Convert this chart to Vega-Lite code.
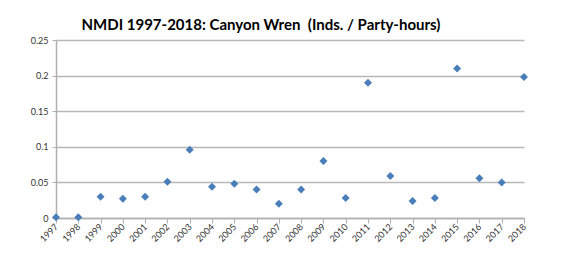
{
  "$schema": "https://vega.github.io/schema/vega-lite/v6.json",
  "width": 468,
  "height": 178,
  "autosize": {"type": "none"},
  "padding": {"left": 56, "top": 40, "right": 54, "bottom": 36},
  "background": "white",
  "title": {
    "text": "NMDI 1997-2018: Canyon Wren\u00a0\u00a0(Inds. / Party-hours)",
    "font": "Lato",
    "fontSize": 15,
    "fontWeight": "bold",
    "color": "black",
    "anchor": "middle",
    "offset": 3,
    "dx": -29
  },
  "config": {"view": {"stroke": null}},
  "data": {
    "values": [
      {"year": "1997", "value": 0.001},
      {"year": "1998", "value": 0.001},
      {"year": "1999", "value": 0.030},
      {"year": "2000", "value": 0.027},
      {"year": "2001", "value": 0.030},
      {"year": "2002", "value": 0.051},
      {"year": "2003", "value": 0.096},
      {"year": "2004", "value": 0.044},
      {"year": "2005", "value": 0.048},
      {"year": "2006", "value": 0.040},
      {"year": "2007", "value": 0.020},
      {"year": "2008", "value": 0.040},
      {"year": "2009", "value": 0.080},
      {"year": "2010", "value": 0.028},
      {"year": "2011", "value": 0.190},
      {"year": "2012", "value": 0.059},
      {"year": "2013", "value": 0.024},
      {"year": "2014", "value": 0.028},
      {"year": "2015", "value": 0.210},
      {"year": "2016", "value": 0.056},
      {"year": "2017", "value": 0.050},
      {"year": "2018", "value": 0.198}
    ]
  },
  "mark": {"type": "point", "shape": "diamond", "filled": true, "size": 64, "color": "#4a7ebb", "opacity": 1},
  "encoding": {
    "x": {
      "field": "year",
      "type": "ordinal",
      "scale": {"type": "point", "padding": 0},
      "axis": {
        "title": null,
        "labelAngle": -45,
        "labelAlign": "right",
        "labelBaseline": "middle",
        "labelFont": "Lato",
        "labelFontSize": 9,
        "labelColor": "#333",
        "labelPadding": 2,
        "domainColor": "#b0b0b0",
        "domainWidth": 1.5,
        "tickColor": "#b0b0b0",
        "tickSize": 5,
        "tickWidth": 1,
        "grid": false
      }
    },
    "y": {
      "field": "value",
      "type": "quantitative",
      "scale": {"domain": [0, 0.25], "nice": false},
      "axis": {
        "title": null,
        "values": [0, 0.05, 0.1, 0.15, 0.2, 0.25],
        "labelExpr": "datum.value == 0 ? '0' : format(datum.value, '')",
        "labelFont": "Lato",
        "labelFontSize": 9,
        "labelColor": "#333",
        "labelPadding": 4,
        "domainColor": "#b0b0b0",
        "domainWidth": 1.5,
        "tickColor": "#b0b0b0",
        "tickSize": 4,
        "gridColor": "#b8b8b8",
        "gridWidth": 1.5,
        "grid": true
      }
    }
  }
}
